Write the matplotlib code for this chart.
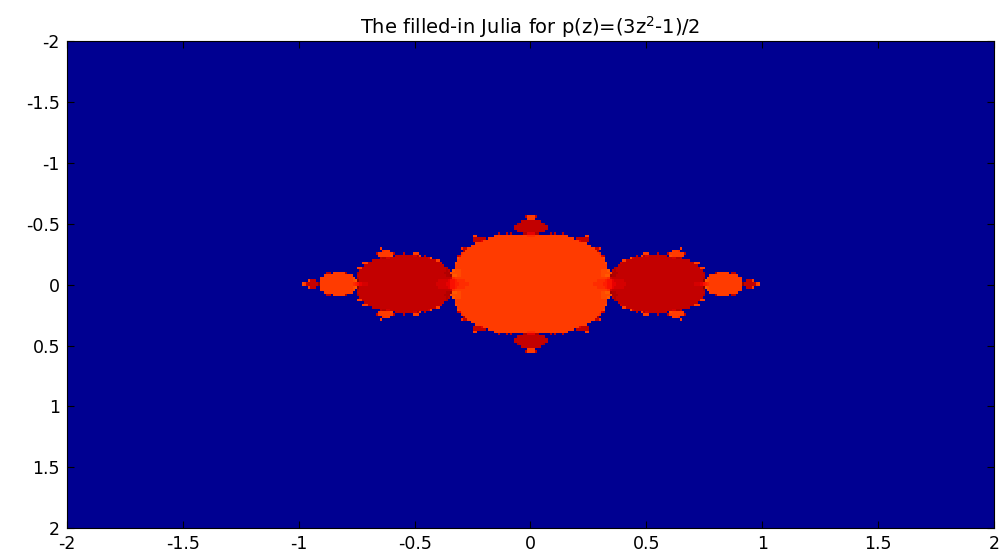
import numpy as np
import matplotlib.pyplot as plt
from matplotlib.colors import ListedColormap

# grid and iteration settings
x_lim = [-2, 2]
y_lim = [-2, 2]
n_x = 450
n_y = 200
n_iter = 71
r_esc = 10.0
clim_scale = 0.982   # a little headroom on top of the colour scale

ticks = [-2, -1.5, -1, -0.5, 0, 0.5, 1, 1.5, 2]
tick_labels = ['-2', '-1.5', '-1', '-0.5', '0', '0.5', '1', '1.5', '2']

# 塗りつぶしJulia集合 p(z) = (3z^2-1)/2
x = np.linspace(x_lim[0], x_lim[1], n_x)
y = np.linspace(y_lim[0], y_lim[1], n_y)
X, Y = np.meshgrid(x, y)
Z = X + 1j * Y
for k in range(n_iter):
    Z = (3 * Z**2 - 1) / 2
    Z[np.abs(Z) > r_esc] = r_esc
W = np.exp(-np.abs(Z))

# old matlab jet(64)
jet64 = ListedColormap(plt.get_cmap('jet')(np.arange(1, 65) / 64.0))

fig = plt.figure(figsize=(9.99, 5.56), dpi=100)
ax = fig.add_axes([0.067, 0.05, 0.928, 0.876])
dx = (x[1] - x[0]) / 2
dy = (y[1] - y[0]) / 2
wmin = W.min()
wmax = wmin + (W.max() - wmin) / clim_scale
ax.imshow(W, cmap=jet64, extent=[x[0] - dx, x[-1] + dx, y[-1] + dy, y[0] - dy],
          aspect='auto', interpolation='nearest', vmin=wmin, vmax=wmax)
ax.set_xlim(-2, 2)
ax.set_ylim(2, -2)
ax.set_xticks(ticks)
ax.set_xticklabels(tick_labels)
ax.set_yticks(ticks)
ax.set_yticklabels(tick_labels)
ax.tick_params(direction='in', top=True, right=True, labelsize=12.5, length=5, pad=5)
for s in ax.spines.values():
    s.set_linewidth(0.8)
ax.set_title('The filled-in Julia for p(z)=(3z$^2$-1)/2', fontsize=14, pad=5)

fig.savefig('out.png', dpi=100)
